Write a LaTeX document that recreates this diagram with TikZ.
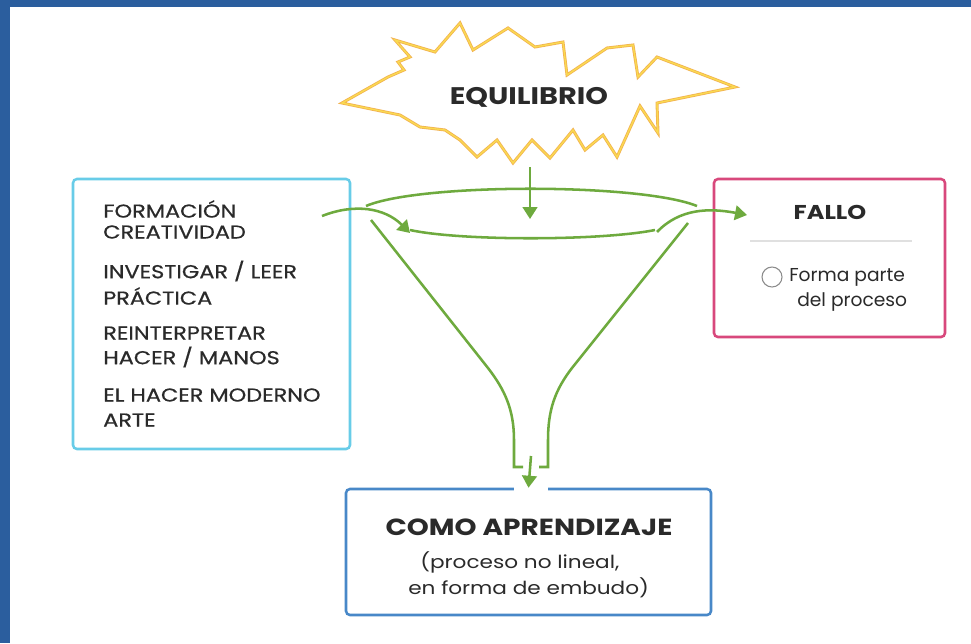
\documentclass[tikz,border=0pt]{standalone}
\usepackage{fontspec}
\setmainfont{Poppins}
\newfontfamily\ancha[FakeStretch=1.2]{Poppins}
\newfontfamily\media[FakeStretch=1.2,FakeBold=0.6]{Poppins}
\usepackage{tikz}
\usetikzlibrary{arrows.meta}

\definecolor{marco}{RGB}{43,94,158}
\definecolor{verde}{RGB}{110,170,62}
\definecolor{celeste}{RGB}{104,204,232}
\definecolor{rosa}{RGB}{216,72,124}
\definecolor{azul}{RGB}{72,136,200}
\definecolor{naranja}{RGB}{242,178,80}
\definecolor{amarillo}{RGB}{250,218,80}
\definecolor{texto}{RGB}{42,42,42}

\begin{document}
\begin{tikzpicture}[x=0.75pt,y=-0.75pt,
  caja/.style={draw,line width=1.9pt,rounded corners=3pt},
  embudo/.style={draw=verde,line width=1.9pt},
  flecha/.style={embudo,-{Triangle[length=9pt,width=11pt]}},
  lista/.style={anchor=west,text=texto,inner sep=0pt,font=\media\fontsize{14}{16}\selectfont},
  titulo/.style={text=texto,inner sep=0pt,font=\ancha\bfseries\fontsize{15}{17}\selectfont}]
\fill[white] (0,0) rectangle (971,643);
\fill[marco] (0,0) rectangle (971,7);
\fill[marco] (0,0) rectangle (10,643);
\useasboundingbox (0,0) rectangle (971,643);

\draw[naranja,line width=2.2pt,line join=miter] (342,103) -- (388,77) -- (404,70) -- (398,62) -- (410,57) -- (395,40)
  -- (435,52) -- (460,23) -- (473,50) -- (508,28) -- (535,47) -- (563,42) -- (567,75) -- (607,48) -- (633,45)
  -- (638,77) -- (657,57) -- (735,87) -- (657,103) -- (658,133) -- (640,106) -- (617,157) -- (603,135)
  -- (585,150) -- (573,130) -- (550,158) -- (532,140) -- (513,163) -- (497,140) -- (477,157) -- (460,140)
  -- (445,130) -- (420,127) -- (400,115) -- cycle;
\draw[amarillo,line width=1pt] (342,103) -- (388,77) -- (404,70) -- (398,62) -- (410,57) -- (395,40)
  -- (435,52) -- (460,23) -- (473,50) -- (508,28) -- (535,47) -- (563,42) -- (567,75) -- (607,48) -- (633,45)
  -- (638,77) -- (657,57) -- (735,87) -- (657,103) -- (658,133) -- (640,106) -- (617,157) -- (603,135)
  -- (585,150) -- (573,130) -- (550,158) -- (532,140) -- (513,163) -- (497,140) -- (477,157) -- (460,140)
  -- (445,130) -- (420,127) -- (400,115) -- cycle;
\node[titulo,font=\ancha\bfseries\fontsize{18}{20}\selectfont] (equilibrio) at (529,97) {EQUILIBRIO};

\node[caja,draw=celeste,minimum width=207.75pt,minimum height=202.5pt] (formacion) at (211.5,314) {};
\foreach \y/\t in {209/{FORMACIÓN},232/{CREATIVIDAD},271/{INVESTIGAR / LEER},296/{PRÁCTICA},
  333/{REINTERPRETAR},357/{HACER / MANOS},395/{EL HACER MODERNO},420/{ARTE}}
  \node[lista] (linea\y) at (103,\y) {\t};

\node[caja,draw=rosa,minimum width=173.25pt,minimum height=118.5pt] (fallo) at (829.5,258) {};
\node[titulo] (fallotit) at (830,212) {FALLO};
\draw[black!12,line width=1pt] (750,241) -- (912,241);
\node[draw=black!45,line width=0.8pt,circle,minimum size=15pt,inner sep=0pt] (punto) at (772,277) {};
\node[text=texto,anchor=west,inner sep=0pt,align=left,font=\fontsize{14}{18.75}\selectfont] (nota) at (789,290)
  {Forma parte\\\hspace*{6pt}del proceso};

\node[caja,draw=azul,minimum width=273.75pt,minimum height=94.5pt] (aprendizaje) at (528.5,552) {};
\node[titulo,font=\ancha\bfseries\fontsize{17.5}{19}\selectfont] (comotit) at (529,527) {COMO APRENDIZAJE};
\node[text=texto,anchor=west,inner sep=0pt,align=left,font=\ancha\fontsize{13.5}{19.5}\selectfont] (comonota) at (408,575)
  {\hspace*{9pt}(proceso no lineal,\\en forma de embudo)};

\draw[embudo] (366,206) .. controls (420,183) and (640,183) .. (697,206);
\draw[embudo] (410,230) .. controls (460,241) and (600,241) .. (655,230);
\draw[embudo] (371,220) -- (488,368) .. controls (505,390) and (514,410) .. (514,440) -- (514,467) -- (523,467);
\draw[embudo] (688,223) -- (572,368) .. controls (555,390) and (548,410) .. (548,440) -- (548,467) -- (539,467);

\coordinate (arriba) at (530,167);
\coordinate (boca) at (530,219);
\coordinate (cuello) at (531,456);
\coordinate (entrada) at (322,216);
\coordinate (giro) at (410,233);
\coordinate (salida) at (657,232);
\coordinate (meta) at (747,215);
\draw[flecha] (arriba) -- (boca);
\draw[flecha] (entrada) .. controls (355,203) and (385,208) .. (giro);
\draw[flecha] (salida) .. controls (680,208) and (710,208) .. (meta);
\draw[white,line width=5pt] (514,489) -- (548,489);
\draw[flecha] (cuello) -- (aprendizaje.north);
\end{tikzpicture}
\end{document}
